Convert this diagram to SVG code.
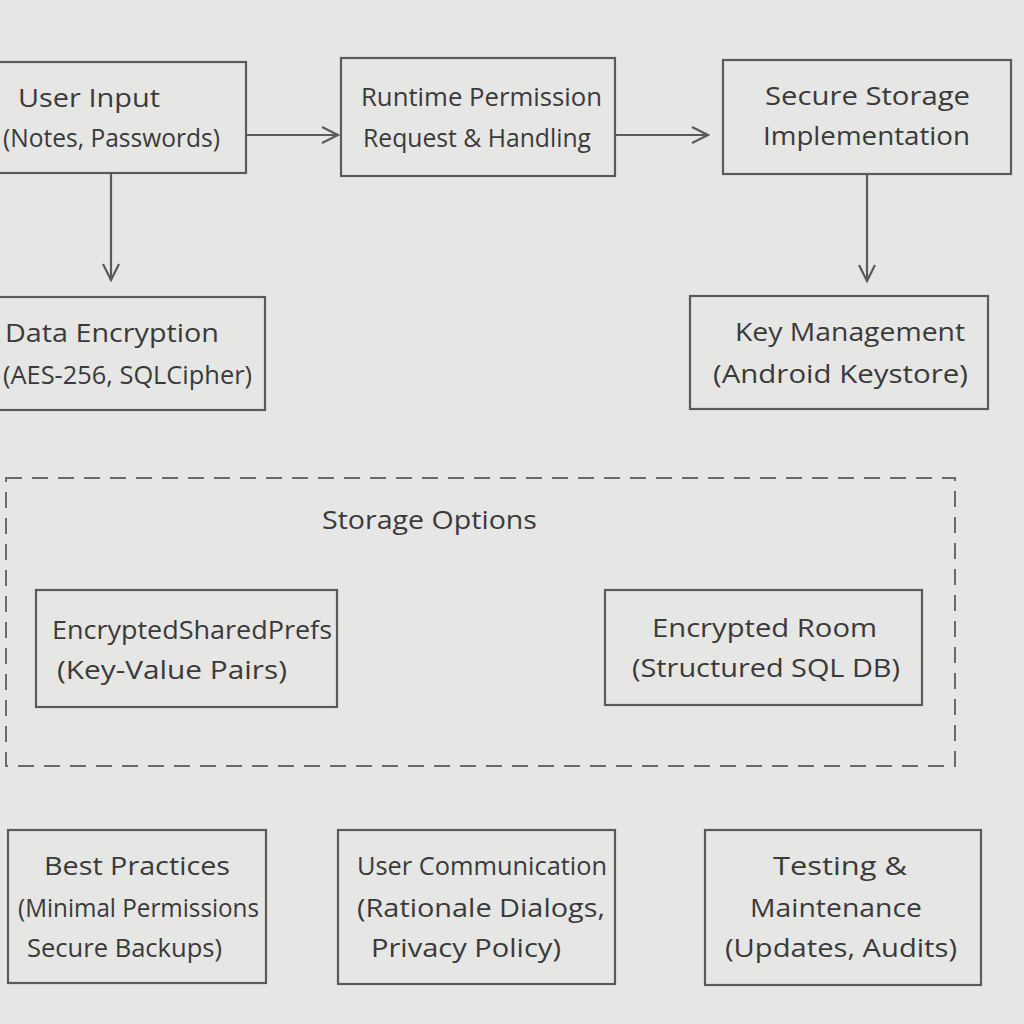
<svg xmlns="http://www.w3.org/2000/svg" width="1024" height="1024" viewBox="0 0 1024 1024">
<defs>
<style>
.bg{fill:#e6e6e4}
.box{fill:none;stroke:#5a5a5a;stroke-width:2.2}
.dash{fill:none;stroke:#6a6a6a;stroke-width:2;stroke-dasharray:16 10}
.conn{fill:none;stroke:#5a5a5a;stroke-width:2.2}
text{font-family:"Open Sans","Liberation Sans",sans-serif;font-size:26px;fill:#3a3a3a}
</style>
<marker id="arr" viewBox="0 0 20 20" refX="18" refY="10" markerWidth="20" markerHeight="20" markerUnits="userSpaceOnUse" orient="auto">
<path d="M2,2 L18,10 L2,18" fill="none" stroke="#5a5a5a" stroke-width="2.2"/>
</marker>
</defs>
<rect class="bg" x="0" y="0" width="1024" height="1024"/>

<g id="connectors">
<line class="conn" x1="246" y1="135" x2="338" y2="135" marker-end="url(#arr)"/>
<line class="conn" x1="615" y1="135" x2="708" y2="135" marker-end="url(#arr)"/>
<line class="conn" x1="111" y1="173" x2="111" y2="280" marker-end="url(#arr)"/>
<line class="conn" x1="867" y1="174" x2="867" y2="281" marker-end="url(#arr)"/>
</g>

<g id="user-input">
<rect class="box" x="-5" y="62" width="251" height="111"/>
<text x="18" y="107" textLength="142" lengthAdjust="spacingAndGlyphs">User Input</text>
<text x="3" y="147" textLength="217" lengthAdjust="spacingAndGlyphs">(Notes, Passwords)</text>
</g>

<g id="runtime-permission">
<rect class="box" x="341" y="58" width="274" height="118"/>
<text x="361" y="106" textLength="241" lengthAdjust="spacingAndGlyphs">Runtime Permission</text>
<text x="363" y="147" textLength="228" lengthAdjust="spacingAndGlyphs">Request &amp; Handling</text>
</g>

<g id="secure-storage">
<rect class="box" x="723" y="60" width="288" height="114"/>
<text x="765" y="105" textLength="205" lengthAdjust="spacingAndGlyphs">Secure Storage</text>
<text x="763" y="145" textLength="207" lengthAdjust="spacingAndGlyphs">Implementation</text>
</g>

<g id="data-encryption">
<rect class="box" x="-5" y="297" width="270" height="113"/>
<text x="5" y="342" textLength="214" lengthAdjust="spacingAndGlyphs">Data Encryption</text>
<text x="3" y="384" textLength="249" lengthAdjust="spacingAndGlyphs">(AES-256, SQLCipher)</text>
</g>

<g id="key-management">
<rect class="box" x="690" y="296" width="298" height="113"/>
<text x="735" y="341" textLength="230" lengthAdjust="spacingAndGlyphs">Key Management</text>
<text x="713" y="383" textLength="255" lengthAdjust="spacingAndGlyphs">(Android Keystore)</text>
</g>

<g id="storage-options">
<rect class="dash" x="6" y="478" width="949" height="288"/>
<text x="322" y="529" textLength="215" lengthAdjust="spacingAndGlyphs">Storage Options</text>
</g>

<g id="encrypted-shared-prefs">
<rect class="box" x="36" y="590" width="301" height="117"/>
<text x="52" y="639" textLength="280" lengthAdjust="spacingAndGlyphs">EncryptedSharedPrefs</text>
<text x="57" y="679" textLength="230" lengthAdjust="spacingAndGlyphs">(Key-Value Pairs)</text>
</g>

<g id="encrypted-room">
<rect class="box" x="605" y="590" width="317" height="115"/>
<text x="652" y="637" textLength="225" lengthAdjust="spacingAndGlyphs">Encrypted Room</text>
<text x="632" y="677" textLength="268" lengthAdjust="spacingAndGlyphs">(Structured SQL DB)</text>
</g>

<g id="best-practices">
<rect class="box" x="8" y="830" width="258" height="153"/>
<text x="44" y="875" textLength="186" lengthAdjust="spacingAndGlyphs">Best Practices</text>
<text x="18" y="917" textLength="241" lengthAdjust="spacingAndGlyphs">(Minimal Permissions</text>
<text x="27" y="957" textLength="195" lengthAdjust="spacingAndGlyphs">Secure Backups)</text>
</g>

<g id="user-communication">
<rect class="box" x="338" y="830" width="277" height="154"/>
<text x="357" y="875" textLength="250" lengthAdjust="spacingAndGlyphs">User Communication</text>
<text x="357" y="917" textLength="248" lengthAdjust="spacingAndGlyphs">(Rationale Dialogs,</text>
<text x="371" y="957" textLength="190" lengthAdjust="spacingAndGlyphs">Privacy Policy)</text>
</g>

<g id="testing-maintenance">
<rect class="box" x="705" y="830" width="276" height="155"/>
<text x="773" y="875" textLength="134" lengthAdjust="spacingAndGlyphs">Testing &amp;</text>
<text x="750" y="917" textLength="172" lengthAdjust="spacingAndGlyphs">Maintenance</text>
<text x="725" y="957" textLength="232" lengthAdjust="spacingAndGlyphs">(Updates, Audits)</text>
</g>
</svg>
